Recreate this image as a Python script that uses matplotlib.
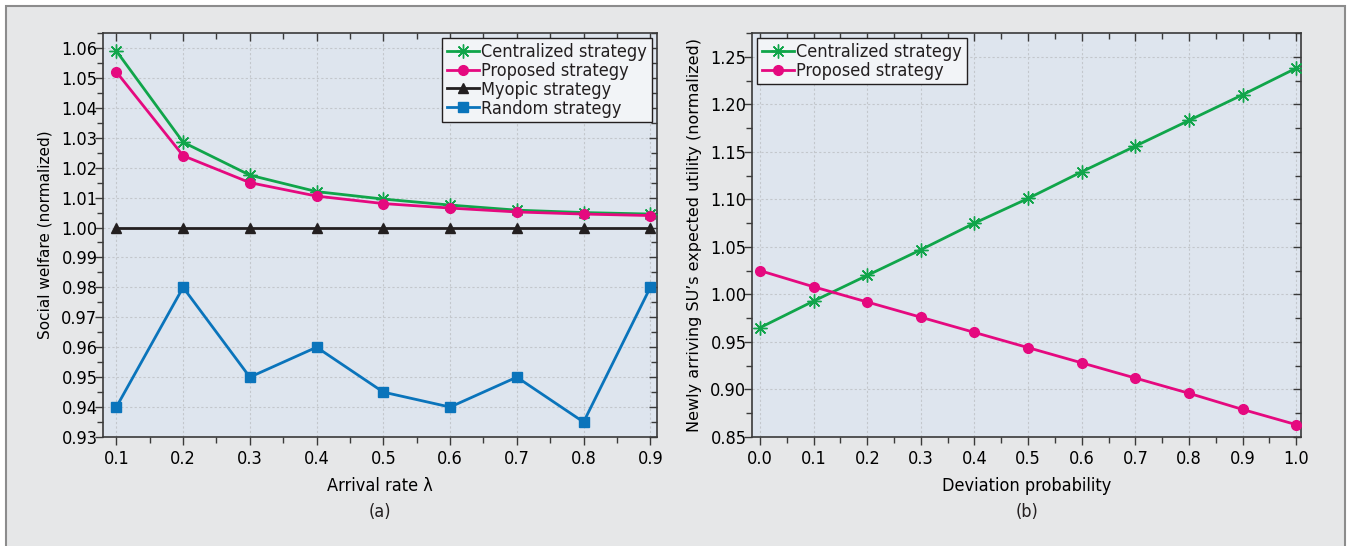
import matplotlib.pyplot as plt
import matplotlib.patches as patches
from matplotlib.ticker import MultipleLocator
import numpy as np

# data, panel (a)
arrivalRate = [0.1, 0.2, 0.3, 0.4, 0.5, 0.6, 0.7, 0.8, 0.9]
centralA = [1.059, 1.0285, 1.0175, 1.012, 1.0095, 1.0075, 1.0058, 1.005, 1.0045]
proposedA = [1.052, 1.024, 1.015, 1.0105, 1.008, 1.0065, 1.0052, 1.0045, 1.004]
myopicA = [1.0, 1.0, 1.0, 1.0, 1.0, 1.0, 1.0, 1.0, 1.0]
randomA = [0.94, 0.98, 0.95, 0.96, 0.945, 0.94, 0.95, 0.935, 0.98]

# data, panel (b)
deviationProb = [0.0, 0.1, 0.2, 0.3, 0.4, 0.5, 0.6, 0.7, 0.8, 0.9, 1.0]
centralB = [0.965, 0.993, 1.020, 1.047, 1.075, 1.101, 1.129, 1.156, 1.183, 1.210, 1.238]
proposedB = [1.025, 1.008, 0.992, 0.976, 0.960, 0.944, 0.928, 0.912, 0.896, 0.879, 0.863]

green = '#10a54a'
pink = '#e5097f'
blue = '#0a74bb'
black = '#231f20'
axBg = '#dee5ee'
plt.rcParams['font.family'] = ['DejaVu Sans']
plt.rcParams['font.stretch'] = 'condensed'  # narrow look like the original
plt.rcParams['text.color'] = '#231f20'

fig = plt.figure(figsize=(13.51, 5.46), dpi=100)
fig.patch.set_facecolor('white')
frame = patches.Rectangle((6 / 1351, -0.02), 1339 / 1351, 1 - 6 / 546 + 0.02,
                          transform=fig.transFigure, facecolor='#e6e7e8',
                          edgecolor='#8c8c8c', linewidth=1.5, zorder=-10)
fig.patches.append(frame)

axA = fig.add_axes([103 / 1351, 1 - 437 / 546, 554 / 1351, 404 / 546])
axB = fig.add_axes([752 / 1351, 1 - 437 / 546, 549 / 1351, 404 / 546])

asterisk = (8, 2, 0)


def style_axes(ax):
    ax.set_facecolor(axBg)
    for s in ax.spines.values():
        s.set_color('#3a3a3a')
        s.set_linewidth(1.2)
    ax.grid(True, which='major', color='#c3c7cc', linestyle=(0, (2, 2)), linewidth=0.8)
    ax.set_axisbelow(True)
    ax.tick_params(which='both', direction='in', top=True, right=True,
                   labelsize=13, color='#3a3a3a', pad=4)
    ax.tick_params(axis='x', which='both', pad=9)
    ax.tick_params(which='major', length=6, width=1)
    ax.tick_params(which='minor', length=4, width=1)
    # left and bottom ticks point outwards
    for t in ax.yaxis.get_major_ticks() + ax.yaxis.get_minor_ticks():
        t.tick1line.set_marker(0)
    for t in ax.xaxis.get_major_ticks() + ax.xaxis.get_minor_ticks():
        t.tick1line.set_marker(3)


def style_legend(leg):
    leg.get_frame().set_edgecolor('#231f20')
    leg.get_frame().set_facecolor('#f2f4f7')
    leg.get_frame().set_alpha(1)
    leg.get_frame().set_linewidth(1)


# panel (a)
axA.plot(arrivalRate, centralA, color=green, lw=2, marker=asterisk, ms=10, mew=1,
         label='Centralized strategy', zorder=4)
axA.plot(arrivalRate, proposedA, color=pink, lw=2, marker='o', ms=7,
         label='Proposed strategy', zorder=5)
axA.plot(arrivalRate, myopicA, color=black, lw=2, marker='^', ms=7,
         label='Myopic strategy', zorder=4)
axA.plot(arrivalRate, randomA, color=blue, lw=2, marker='s', ms=7,
         label='Random strategy', zorder=4)
axA.set_xlim(0.08, 0.91)
axA.set_ylim(0.93, 1.065)
axA.xaxis.set_major_locator(MultipleLocator(0.1))
axA.xaxis.set_minor_locator(MultipleLocator(0.05))
axA.yaxis.set_major_locator(MultipleLocator(0.01))
axA.yaxis.set_minor_locator(MultipleLocator(0.005))
axA.xaxis.set_major_formatter(plt.FuncFormatter(lambda v, p: '{:.1f}'.format(v)))
axA.yaxis.set_major_formatter(plt.FuncFormatter(lambda v, p: '{:.2f}'.format(v)))
style_axes(axA)
axA.set_xlabel('Arrival rate λ', fontsize=13, labelpad=7)
axA.set_ylabel('Social welfare (normalized)', fontsize=11, fontstretch='normal', labelpad=6)
legA = axA.legend(loc='upper right', fontsize=13, frameon=True, fancybox=False,
                  borderpad=0.25, labelspacing=0.05, handlelength=1.8, handletextpad=0.1,
                  borderaxespad=0.3)
style_legend(legA)

# panel (b)
axB.plot(deviationProb, centralB, color=green, lw=2, marker=asterisk, ms=10, mew=1,
         label='Centralized strategy', zorder=4)
axB.plot(deviationProb, proposedB, color=pink, lw=2, marker='o', ms=7,
         label='Proposed strategy', zorder=5)
axB.set_xlim(-0.015, 1.009)
axB.set_ylim(0.85, 1.275)
axB.xaxis.set_major_locator(MultipleLocator(0.1))
axB.xaxis.set_minor_locator(MultipleLocator(0.05))
axB.yaxis.set_major_locator(MultipleLocator(0.05))
axB.yaxis.set_minor_locator(MultipleLocator(0.025))
axB.xaxis.set_major_formatter(plt.FuncFormatter(lambda v, p: '{:.1f}'.format(v)))
axB.yaxis.set_major_formatter(plt.FuncFormatter(lambda v, p: '{:.2f}'.format(v)))
style_axes(axB)
axB.set_xlabel('Deviation probability', fontsize=13, labelpad=7)
axB.set_ylabel('Newly arriving SU\u2019s expected utility (normalized)', fontsize=11.5,
               fontstretch='normal', labelpad=6)
legB = axB.legend(loc='upper left', fontsize=13, frameon=True, fancybox=False,
                  borderpad=0.25, labelspacing=0.05, handlelength=1.8, handletextpad=0.1,
                  borderaxespad=0.3)
style_legend(legB)

fig.text(380 / 1351, 1 - 512 / 546, '(a)', ha='center', va='center', fontsize=13)
fig.text(1027 / 1351, 1 - 512 / 546, '(b)', ha='center', va='center', fontsize=13)

fig.savefig('out.png', dpi=100, facecolor=fig.get_facecolor())
